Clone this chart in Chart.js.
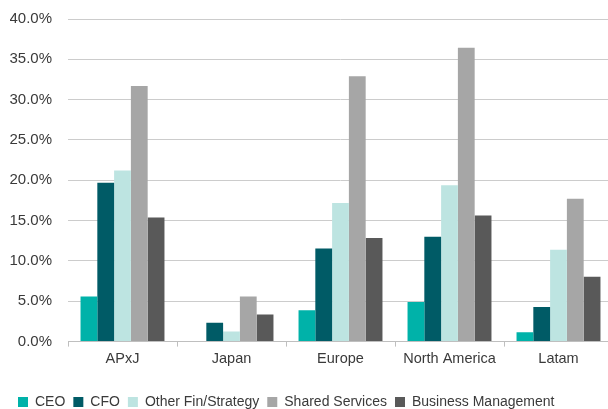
<!DOCTYPE html>
<html>
<head>
<meta charset="utf-8">
<script src="https://cdn.jsdelivr.net/npm/chart.js@4/dist/chart.umd.min.js"></script>
<style>
  html, body { margin: 0; padding: 0; background: #fff; overflow: hidden; }
  #wrap { width: 613px; height: 409px; overflow: hidden; }
  #chart { display: block; margin-top: -6px; }
</style>
</head>
<body>
<div id="wrap"><canvas id="chart" width="613" height="425"></canvas></div>
<script>
  /* ---------- Data ---------- */
  var REGIONS = ['APxJ', 'Japan', 'Europe', 'North America', 'Latam'];
  var CEO = [5.6, 0, 3.9, 4.9, 1.15];
  var CFO = [19.7, 2.35, 11.55, 13.0, 4.3];
  var OTHER_FIN = [21.2, 1.25, 17.2, 19.4, 11.4];
  var SHARED_SERVICES = [31.7, 5.6, 32.9, 36.45, 17.7];
  var BUSINESS_MGMT = [15.4, 3.35, 12.85, 15.65, 8.05];
  var Y_TICKS = [0, 5, 10, 15, 20, 25, 30, 35, 40];

  var FONT = "'Liberation Sans', Arial, sans-serif";
  var TEXT = '#3a3a3a';

  function series(label, data, color) {
    return { label: label, data: data, backgroundColor: color, borderWidth: 0,
      categoryPercentage: 0.77, barPercentage: 1.0 };
  }

  new Chart(document.getElementById('chart').getContext('2d'), {
    type: 'bar',
    data: {
      labels: REGIONS,
      datasets: [
        series('CEO', CEO, '#00b2a9'),
        series('CFO', CFO, '#005b66'),
        series('Other Fin/Strategy', OTHER_FIN, '#bde4e1'),
        series('Shared Services', SHARED_SERVICES, '#a6a6a6'),
        series('Business Management', BUSINESS_MGMT, '#595959')
      ]
    },
    options: {
      responsive: false,
      animation: false,
      layout: { padding: { top: 1, left: 10, right: 0, bottom: 0 } },
      plugins: {
        tooltip: { enabled: false },
        legend: {
          position: 'bottom',
          align: 'start',
          labels: {
            color: TEXT, font: { family: FONT, size: 14 },
            boxWidth: 10, boxHeight: 10, padding: 8
          }
        }
      },
      scales: {
        x: {
          afterFit: function (axis) { axis.height += 15; },
          grid: { offset: true, drawOnChartArea: false, drawTicks: true, tickLength: 5, color: '#bfbfbf' },
          border: { display: true, color: '#bfbfbf', width: 1 },
          ticks: { color: TEXT, font: { family: FONT, size: 14.5 }, padding: 4, maxRotation: 0 }
        },
        y: {
          min: 0, max: 40,
          afterBuildTicks: function (axis) {
            axis.ticks = Y_TICKS.map(function (v) { return { value: v }; });
          },
          afterFit: function (axis) { axis.width = 58; },
          grid: { color: '#cccccc', lineWidth: 1, drawTicks: false },
          border: { display: false },
          ticks: {
            color: TEXT, font: { family: FONT, size: 15 }, padding: 16,
            callback: function (v) { return v.toFixed(1) + '%'; }
          }
        }
      }
    }
  });
</script>
</body>
</html>
